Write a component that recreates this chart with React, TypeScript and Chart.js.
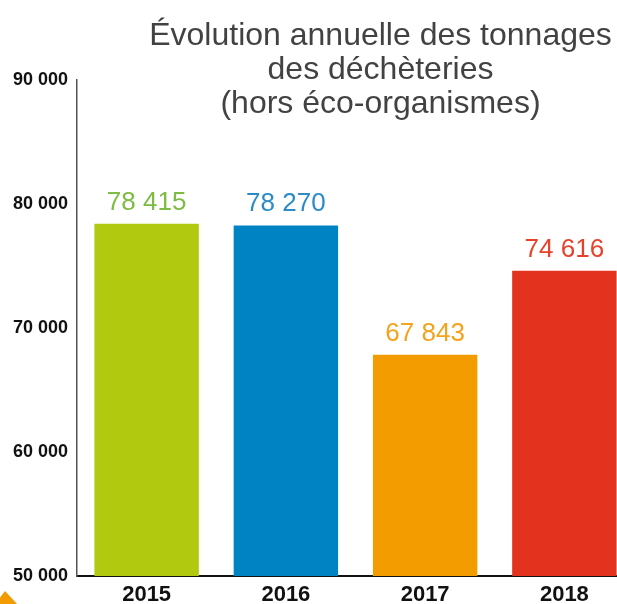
import React, { useEffect, useRef } from "react";
import { Chart, registerables } from "chart.js";

Chart.register(...registerables);

const categories = ["2015", "2016", "2017", "2018"];
const values = [78415, 78270, 67843, 74616];
const barColors = ["#b1c90f", "#0083c3", "#f39c00", "#e3321e"];
const labelColors = ["#7dbb42", "#2a8bc6", "#f5a21c", "#e8402a"];
const yMin = 50000;
const yMax = 90000;
const yStep = 10000;
const titleLines = ["Évolution annuelle des tonnages", "des déchèteries", "(hors éco-organismes)"];

const fmt = (n: number) => String(n).replace(/\B(?=(\d{3})+(?!\d))/g, " ");

const valueLabelPlugin = {
  id: "valueLabels",
  afterDatasetsDraw(chart: any) {
    const ctx = chart.ctx;
    const meta = chart.getDatasetMeta(0);
    ctx.save();
    ctx.font = "26px 'Liberation Sans', Arial, sans-serif";
    ctx.textAlign = "center";
    ctx.textBaseline = "alphabetic";
    meta.data.forEach((el: any, i: number) => {
      ctx.fillStyle = labelColors[i];
      ctx.fillText(fmt(values[i]), el.x, el.y - 14);
    });
    ctx.restore();
  },
};

const titlePlugin = {
  id: "overlayTitle",
  afterDraw(chart: any) {
    const ctx = chart.ctx;
    const area = chart.chartArea;
    ctx.save();
    ctx.font = "32px 'Liberation Sans', Arial, sans-serif";
    ctx.fillStyle = "#424242";
    ctx.textAlign = "center";
    ctx.textBaseline = "alphabetic";
    const cx = (area.left + area.right) / 2 + 25;
    titleLines.forEach((line, i) => {
      ctx.fillText(line, cx, area.top - 35 + i * 34);
    });
    ctx.restore();
  },
};

export default function App() {
  const canvasRef = useRef<HTMLCanvasElement | null>(null);

  useEffect(() => {
    if (!canvasRef.current) return;
    const chart = new Chart(canvasRef.current, {
      type: "bar",
      data: {
        labels: categories,
        datasets: [
          {
            data: values,
            backgroundColor: barColors,
            borderWidth: 0,
            barPercentage: 0.75,
            categoryPercentage: 1,
          },
        ],
      },
      options: {
        animation: false,
        responsive: false,
        devicePixelRatio: 1,
        layout: { padding: { top: 80, left: 0, right: 0, bottom: 0 } },
        plugins: {
          legend: { display: false },
          title: { display: false },
          tooltip: { enabled: false },
        },
        scales: {
          x: {
            grid: { display: true, drawOnChartArea: false, drawTicks: false },
            border: { display: true, color: "#111", width: 2 },
            ticks: {
              color: "#111",
              padding: 6,
              font: { family: "'Liberation Sans', Arial, sans-serif", size: 22, weight: "bold" },
            },
            afterFit(scale: any) {
              scale.height = 28;
            },
          },
          y: {
            min: yMin,
            max: yMax,
            grid: { display: true, drawOnChartArea: false, drawTicks: false },
            border: { display: true, color: "#555", width: 1.5 },
            ticks: {
              stepSize: yStep,
              color: "#111",
              padding: 9,
              font: { family: "'Liberation Sans', Arial, sans-serif", size: 18, weight: "bold" },
              callback: (v: any) => fmt(Number(v)),
            },
            afterFit(scale: any) {
              scale.width = 77;
            },
          },
        },
      },
      plugins: [valueLabelPlugin, titlePlugin],
    });
    return () => chart.destroy();
  }, []);

  return (
    <div
      style={{
        position: "fixed",
        left: 0,
        top: 0,
        width: 617,
        height: 604,
        overflow: "hidden",
        background: "#fff",
      }}
    >
      <canvas ref={canvasRef} width={634} height={604} style={{ position: "absolute", left: 0, top: 0 }} />
      <div
        style={{
          position: "absolute",
          left: 0,
          top: 591,
          width: 17,
          height: 13,
          background: "#f39c00",
          clipPath: "polygon(0% 50%, 30% 0%, 100% 100%, 0% 100%)",
        }}
      />
    </div>
  );
}
